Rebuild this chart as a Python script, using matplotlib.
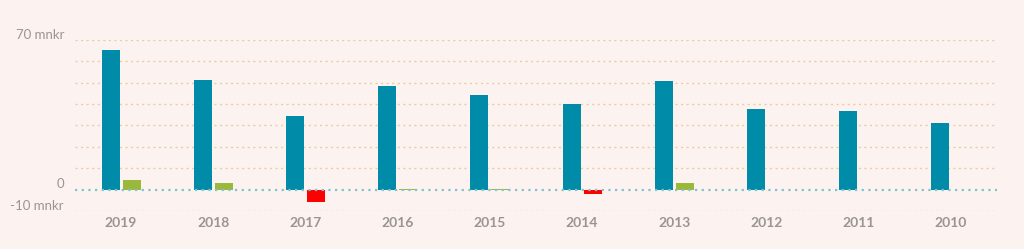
import numpy as np
import matplotlib.pyplot as plt

# data (mnkr)
years = ['2019', '2018', '2017', '2016', '2015', '2014', '2013', '2012', '2011', '2010']
main_vals = [65.2, 51.3, 34.5, 48.3, 44.2, 40.2, 50.9, 37.5, 36.9, 31.1]
result_vals = [4.3, 2.9, -6.0, 0.4, 0.3, -2.0, 3.0, 0.0, 0.0, 0.0]

BG = '#fcf3f0'
BLUE = '#008ba8'
GREEN = '#9ab83c'
RED = '#ff0000'
GRID = '#ebcba0'
ZERO = '#7ec3d0'
TXT = '#9a9593'

fig = plt.figure(figsize=(10.24, 2.49), dpi=100, facecolor=BG)
ax = fig.add_axes([75/1024, 1 - 211/249, 922/1024, 171/249])
ax.set_facecolor(BG)

x = np.arange(len(years))
w = 0.195
off = 0.114
ax.bar(x - off, main_vals, w, color=BLUE, zorder=3)
res_cols = [GREEN if v >= 0 else RED for v in result_vals]
ax.bar(x + off, result_vals, w, color=res_cols, zorder=3)

# dotted gridlines
for g in range(-10, 80, 10):
    if g == 0:
        continue
    ax.axhline(g, color=GRID, lw=1.0, ls=(0, (1.5, 2.5)), zorder=1)
ax.axhline(0, color=ZERO, lw=1.6, ls=(0, (1, 2)), zorder=4)

ax.set_xlim(-0.5, len(years) - 0.5)
ax.set_ylim(-10, 70)
for s in ax.spines.values():
    s.set_visible(False)

ax.set_xticks(x)
ax.set_xticklabels(years, fontsize=10, fontweight='bold', color=TXT,
                   family='Lato')
ax.tick_params(axis='x', length=0, pad=4)

ax.set_yticks([])
for val, lab in [(70, '70 mnkr'), (0, '0'), (-10, '-10 mnkr')]:
    ax.annotate(lab, xy=(0, val), xycoords=('axes fraction', 'data'),
                xytext=(-8, -0.5), textcoords='offset points',
                ha='right', va='bottom', fontsize=9.5, color=TXT,
                family='Lato', annotation_clip=False)

fig.savefig('out.png', dpi=100, facecolor=BG)
